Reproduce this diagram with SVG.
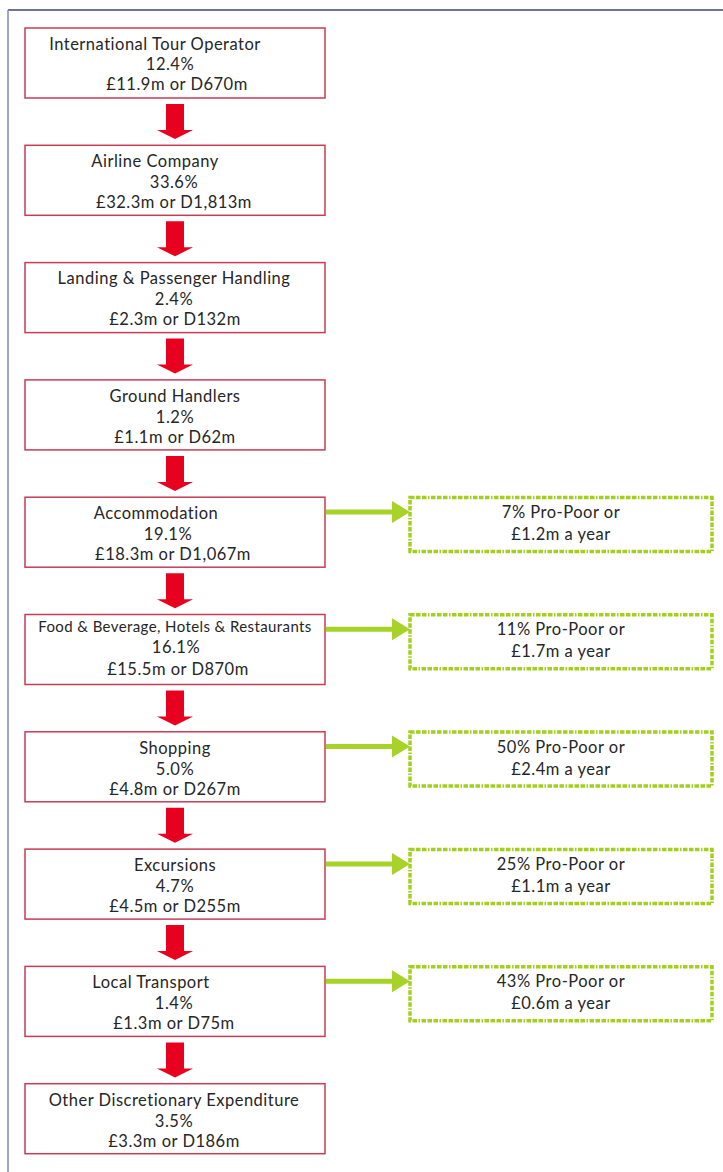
<svg xmlns="http://www.w3.org/2000/svg" width="723" height="1172" viewBox="0 0 723 1172">
<style>
.box{fill:#fff;stroke:#c63d55;stroke-width:1.5}
.gbox{fill:#fff;stroke:#a3d01c;stroke-width:3.5;stroke-dasharray:4.5 1.5 4.5 1.5 4.5 1.5 1.5 1.5}
.t{font-family:Lato,"Open Sans",sans-serif;font-size:16.5px;letter-spacing:0.5px;fill:#262626;text-anchor:middle}
.s{font-size:15px;letter-spacing:0.4px}
.red{fill:#e8001f}
.grn{fill:#a6d22a}
</style>
<rect width="723" height="1172" fill="#fff"/>
<line x1="8" y1="10" x2="723" y2="10" stroke="#3d4572" stroke-width="1.5"/>
<line x1="8" y1="10" x2="8" y2="1172" stroke="#7e88bd" stroke-width="1.5"/>

<g id="connectors">
  <path class="red" d="M166,104h18v26h9l-18,9l-18,-9h9z"/>
  <path class="red" d="M166,221.3h18v26h9l-18,9l-18,-9h9z"/>
  <path class="red" d="M166,338.6h18v26h9l-18,9l-18,-9h9z"/>
  <path class="red" d="M166,455.9h18v26h9l-18,9l-18,-9h9z"/>
  <path class="red" d="M166,573.2h18v26h9l-18,9l-18,-9h9z"/>
  <path class="red" d="M166,690.5h18v26h9l-18,9l-18,-9h9z"/>
  <path class="red" d="M166,807.8h18v26h9l-18,9l-18,-9h9z"/>
  <path class="red" d="M166,925.1h18v26h9l-18,9l-18,-9h9z"/>
  <path class="red" d="M166,1042.4h18v26h9l-18,9l-18,-9h9z"/>
  <path class="grn" d="M326,509.5h66v-8.5l18,11l-18,11v-8.5h-66z"/>
  <path class="grn" d="M326,626.8h66v-8.5l18,11l-18,11v-8.5h-66z"/>
  <path class="grn" d="M326,744.1h66v-8.5l18,11l-18,11v-8.5h-66z"/>
  <path class="grn" d="M326,861.4h66v-8.5l18,11l-18,11v-8.5h-66z"/>
  <path class="grn" d="M326,978.7h66v-8.5l18,11l-18,11v-8.5h-66z"/>
</g>

<g id="n1"><rect class="box" x="25" y="28" width="300" height="70"/>
<text class="t" x="155" y="50">International Tour Operator</text><text class="t" x="170" y="70">12.4%</text><text class="t" x="177" y="90">£11.9m or D670m</text></g>
<g id="n2"><rect class="box" x="25" y="145.3" width="300" height="70"/>
<text class="t" x="155" y="167">Airline Company</text><text class="t" x="174" y="188">33.6%</text><text class="t" x="174" y="208">£32.3m or D1,813m</text></g>
<g id="n3"><rect class="box" x="25" y="262.6" width="300" height="70"/>
<text class="t" x="174" y="284">Landing &amp; Passenger Handling</text><text class="t" x="174" y="305">2.4%</text><text class="t" x="175" y="325">£2.3m or D132m</text></g>
<g id="n4"><rect class="box" x="25" y="379.9" width="300" height="70"/>
<text class="t" x="175" y="402">Ground Handlers</text><text class="t" x="175" y="423">1.2%</text><text class="t" x="175" y="443">£1.1m or D62m</text></g>
<g id="n5"><rect class="box" x="25" y="497.2" width="300" height="70"/>
<text class="t" x="156" y="519">Accommodation</text><text class="t" x="168" y="540">19.1%</text><text class="t" x="173" y="560">£18.3m or D1,067m</text></g>
<g id="n6"><rect class="box" x="25" y="614.5" width="300" height="70"/>
<text class="t s" x="175" y="632">Food &amp; Beverage, Hotels &amp; Restaurants</text><text class="t" x="176" y="653">16.1%</text><text class="t" x="178" y="675">£15.5m or D870m</text></g>
<g id="n7"><rect class="box" x="25" y="731.8" width="300" height="70"/>
<text class="t" x="175" y="754">Shopping</text><text class="t" x="175" y="775">5.0%</text><text class="t" x="175" y="795">£4.8m or D267m</text></g>
<g id="n8"><rect class="box" x="25" y="849.1" width="300" height="70"/>
<text class="t" x="175" y="871">Excursions</text><text class="t" x="175" y="892">4.7%</text><text class="t" x="175" y="912">£4.5m or D255m</text></g>
<g id="n9"><rect class="box" x="25" y="966.4" width="300" height="70"/>
<text class="t" x="151" y="988">Local Transport</text><text class="t" x="174" y="1009">1.4%</text><text class="t" x="174" y="1029">£1.3m or D75m</text></g>
<g id="n10"><rect class="box" x="25" y="1083.7" width="300" height="70"/>
<text class="t" x="174" y="1106">Other Discretionary Expenditure</text><text class="t" x="174" y="1127">3.5%</text><text class="t" x="174" y="1147">£3.3m or D186m</text></g>

<g id="g5"><rect class="gbox" x="410" y="497.5" width="302" height="54"/>
<text class="t" x="561" y="518">7% Pro-Poor or</text><text class="t" x="561" y="540">£1.2m a year</text></g>
<g id="g6"><rect class="gbox" x="410" y="614.8" width="302" height="54"/>
<text class="t" x="561" y="635">11% Pro-Poor or</text><text class="t" x="561" y="657">£1.7m a year</text></g>
<g id="g7"><rect class="gbox" x="410" y="732.1" width="302" height="54"/>
<text class="t" x="561" y="753">50% Pro-Poor or</text><text class="t" x="561" y="775">£2.4m a year</text></g>
<g id="g8"><rect class="gbox" x="410" y="849.4" width="302" height="54"/>
<text class="t" x="561" y="870">25% Pro-Poor or</text><text class="t" x="561" y="892">£1.1m a year</text></g>
<g id="g9"><rect class="gbox" x="410" y="966.7" width="302" height="54"/>
<text class="t" x="561" y="987">43% Pro-Poor or</text><text class="t" x="561" y="1009">£0.6m a year</text></g>
</svg>
